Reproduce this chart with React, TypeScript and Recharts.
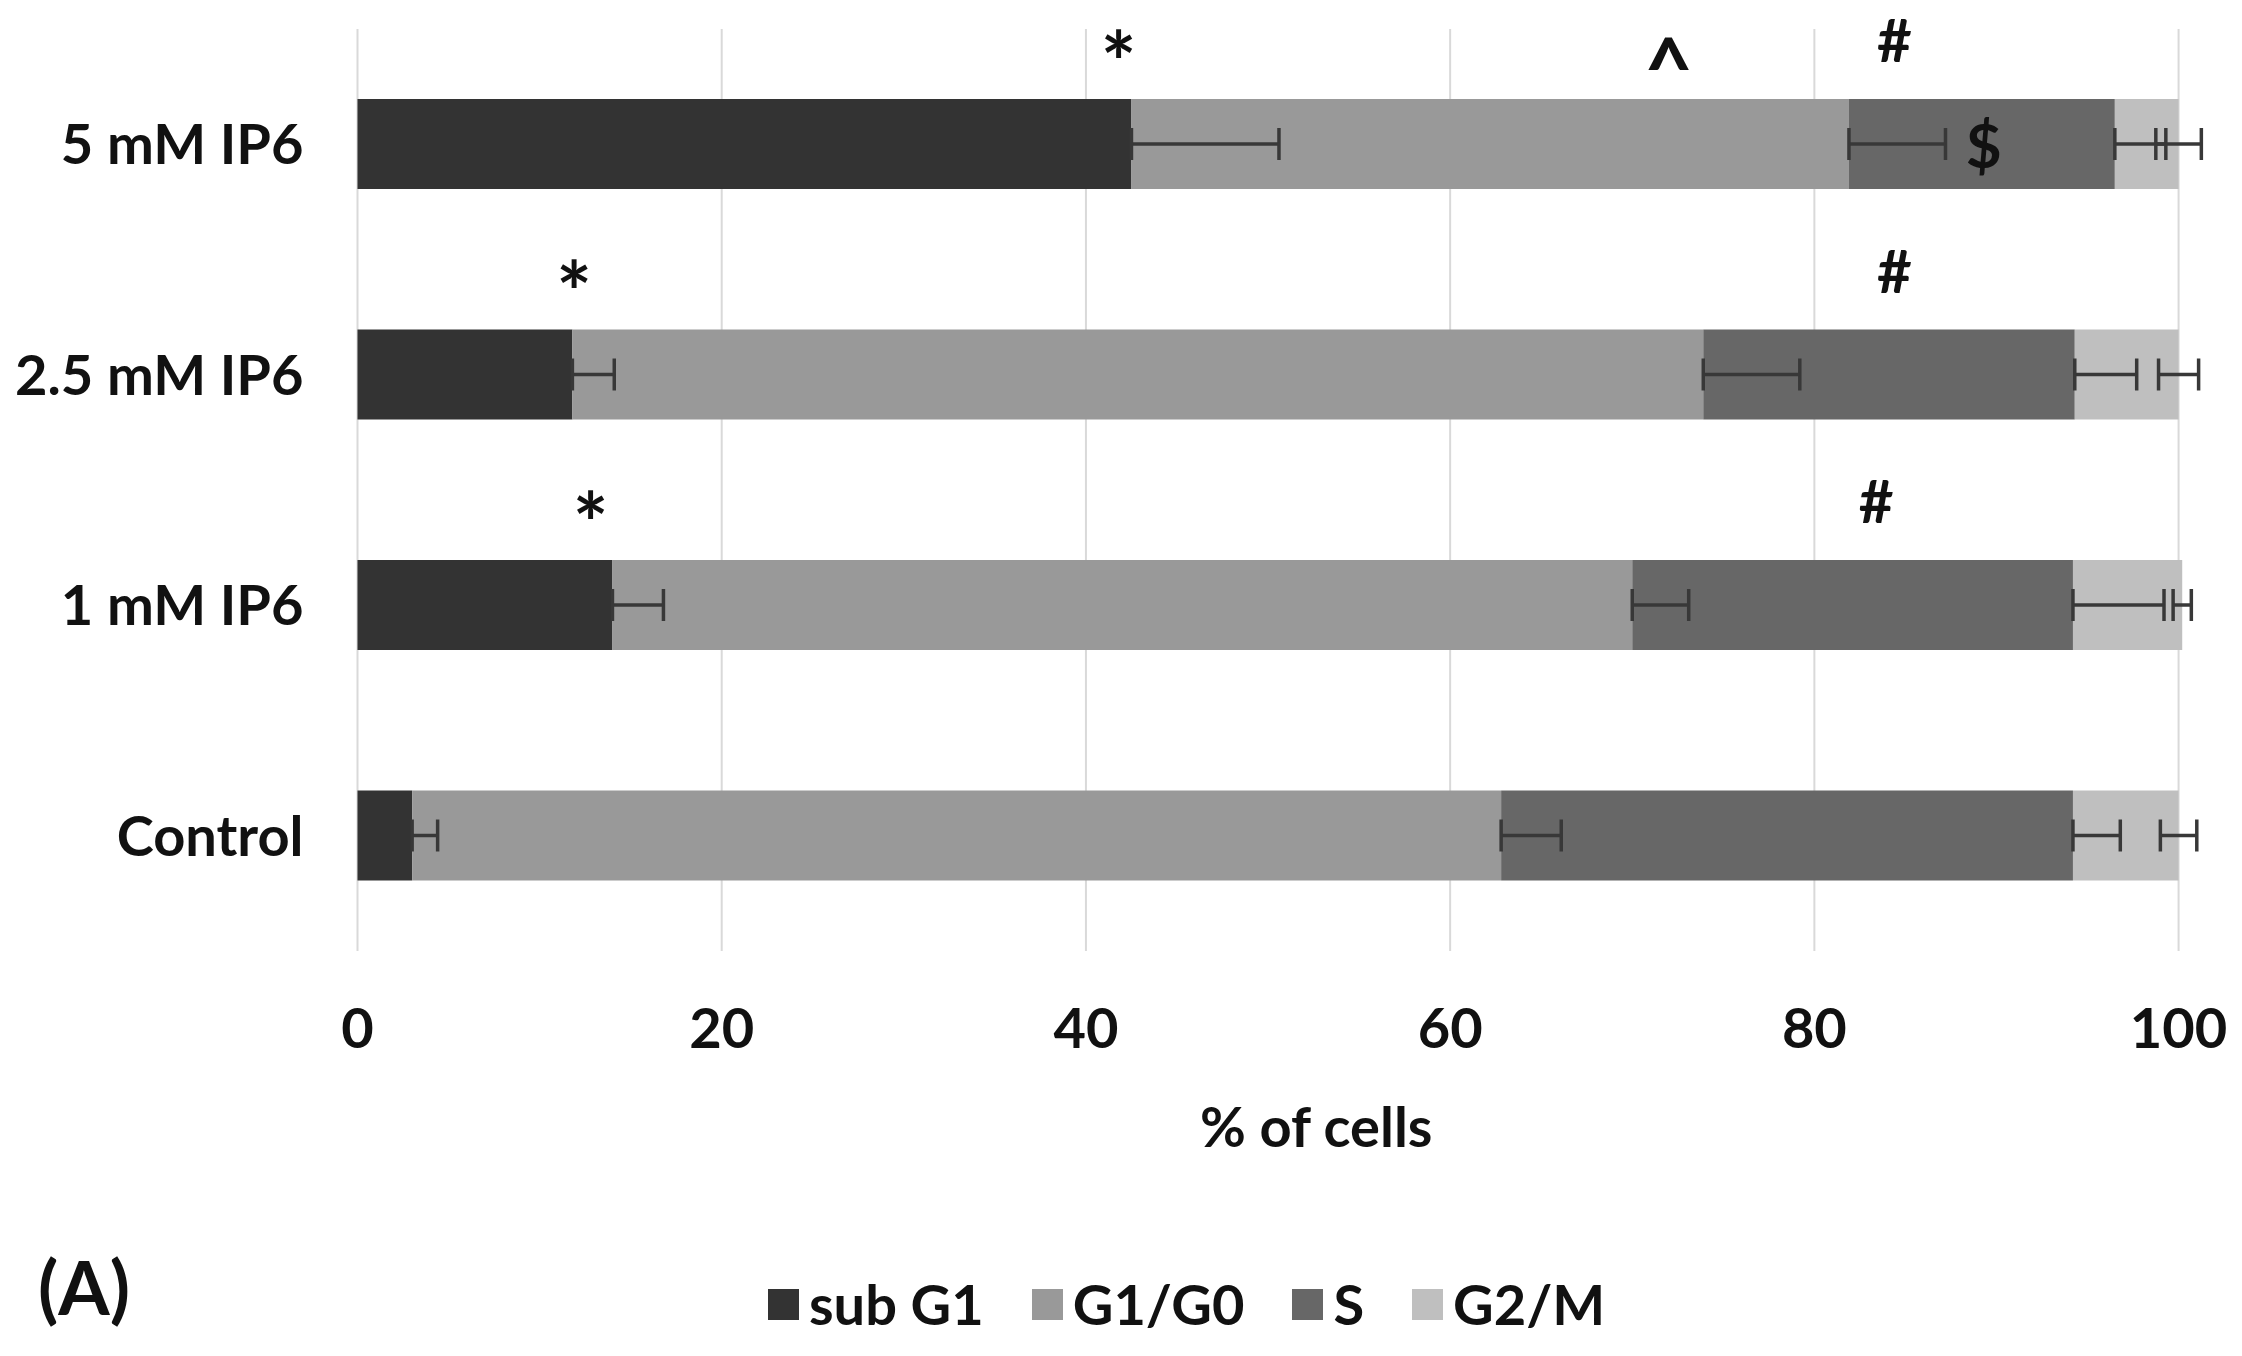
import React from "react";
import {
  BarChart,
  Bar,
  XAxis,
  YAxis,
  CartesianGrid,
  ErrorBar,
  ReferenceDot,
  Legend,
} from "recharts";

document.body.style.margin = "0";

// rows, top to bottom
const categories = ["5 mM IP6", "2.5 mM IP6", "1 mM IP6", "Control"];

// % of cells in each phase
const subG1 = [42.5, 11.8, 14.0, 3.0];
const g1g0 = [39.4, 62.1, 56.0, 59.8];
const sPhase = [14.6, 20.4, 24.2, 31.4];
const g2m = [3.5, 5.7, 6.0, 5.8];

// error bars (sub G1, G1/G0 and S are drawn one-sided, G2/M both ways)
const subG1Err = [8.1, 2.3, 2.8, 1.4];
const g1g0Err = [5.3, 5.3, 3.1, 3.3];
const sErr = [2.8, 3.4, 5.0, 2.6];
const g2mErr = [1.25, 1.1, 0.5, 1.0];

const xTicks = [0, 20, 40, 60, 80, 100];

// significance marks
const markSymbols = ["*", "^", "#", "$", "*", "#", "*", "#"];
const markRows = [
  "5 mM IP6",
  "5 mM IP6",
  "5 mM IP6",
  "5 mM IP6",
  "2.5 mM IP6",
  "2.5 mM IP6",
  "1 mM IP6",
  "1 mM IP6",
];
const markX = [41.8, 72.0, 84.4, 89.3, 11.9, 84.4, 12.8, 83.4];

const FONT = "Lato, 'Open Sans', sans-serif";
const TEXT = "#111111";

const series = [
  { key: "subG1", err: "subG1Err", name: "sub G1", color: "#333333" },
  { key: "g1g0", err: "g1g0Err", name: "G1/G0", color: "#999999" },
  { key: "s", err: "sErr", name: "S", color: "#676767" },
  { key: "g2m", err: "g2mErr", name: "G2/M", color: "#bfbfbf" },
];

const chartData = categories.map((name, i) => ({
  name,
  subG1: subG1[i],
  g1g0: g1g0[i],
  s: sPhase[i],
  g2m: g2m[i],
  subG1Err: [0, subG1Err[i]],
  g1g0Err: [0, g1g0Err[i]],
  sErr: [0, sErr[i]],
  g2mErr: [g2mErr[i], g2mErr[i]],
}));

// vertical nudge (px, from the row centre) and size for each mark glyph
const markStyle: Record<string, { dy: number; size: number }> = {
  "*": { dy: -84, size: 84 },
  "#": { dy: -105, size: 60 },
  "^": { dy: -78, size: 84 },
  $: { dy: 0, size: 62 },
};

function MarkLabel(props: any) {
  const { viewBox, symbol } = props;
  if (!viewBox) return null;
  const st = markStyle[symbol];
  const cx = viewBox.x + (viewBox.width || 0) / 2;
  const cy = viewBox.y + (viewBox.height || 0) / 2;
  return (
    <text
      x={cx}
      y={cy + st.dy}
      textAnchor="middle"
      dominantBaseline="central"
      fontFamily={FONT}
      fontWeight={700}
      fontSize={st.size}
      fill={TEXT}
    >
      {symbol}
    </text>
  );
}

function AxisTitle(props: any) {
  const { viewBox } = props;
  if (!viewBox) return null;
  return (
    <text
      x={viewBox.x + viewBox.width / 2 + 30}
      y={viewBox.y + viewBox.height - 4}
      textAnchor="middle"
      fontFamily={FONT}
      fontWeight={700}
      fontSize={56}
      fill={TEXT}
    >
      % of cells
    </text>
  );
}

// legend keeps the series order (sub G1, G1/G0, S, G2/M)
function LegendRow() {
  return (
    <div style={{ display: "flex", alignItems: "center", height: 56 }}>
      {series.map((it, i) => (
        <div
          key={it.key}
          style={{ display: "flex", alignItems: "center", marginLeft: i ? 48 : 0 }}
        >
          <span style={{ width: 31, height: 31, background: it.color, display: "inline-block" }} />
          <span
            style={{
              marginLeft: 10,
              fontFamily: FONT,
              fontWeight: 700,
              fontSize: 56,
              lineHeight: 1,
              color: TEXT,
            }}
          >
            {it.name}
          </span>
        </div>
      ))}
    </div>
  );
}

export default function App() {
  return (
    <div style={{ position: "relative", width: 2242, height: 1356, background: "#fff", fontFamily: FONT }}>
      <BarChart
        width={2242}
        height={1356}
        data={chartData}
        layout="vertical"
        margin={{ top: 29, right: 27, bottom: 205, left: 0 }}
      >
        <CartesianGrid
          horizontal={false}
          verticalValues={xTicks}
          stroke="#d9d9d9"
          strokeWidth={2}
        />
        <XAxis
          type="number"
          domain={[0, 102]}
          ticks={xTicks}
          tickLine={false}
          axisLine={false}
          tickSize={0}
          tickMargin={57}
          height={200}
          tick={{ fontSize: 56, fontWeight: 700, fill: TEXT, fontFamily: FONT }}
          label={<AxisTitle />}
        />
        <YAxis
          type="category"
          dataKey="name"
          width={357.5}
          tickLine={false}
          axisLine={false}
          tickSize={0}
          tickMargin={54}
          tick={{ fontSize: 56, fontWeight: 700, fill: TEXT, fontFamily: FONT }}
        />
        <Legend
          layout="horizontal"
          verticalAlign="middle"
          align="center"
          wrapperStyle={{ left: 768, top: 1276, width: "auto", height: 56 }}
          content={<LegendRow />}
        />
        {series.map((s) => (
          <Bar
            key={s.key}
            dataKey={s.key}
            name={s.name}
            stackId="phase"
            fill={s.color}
            barSize={90}
            isAnimationActive={false}
          >
            <ErrorBar
              dataKey={s.err}
              direction="x"
              width={16}
              stroke="#383838"
              strokeWidth={3.5}
              isAnimationActive={false}
            />
          </Bar>
        ))}
        {markSymbols.map((sym, i) => (
          <ReferenceDot
            key={i}
            x={markX[i]}
            y={markRows[i]}
            r={0}
            fill="none"
            stroke="none"
            ifOverflow="visible"
            label={<MarkLabel symbol={sym} />}
          />
        ))}
      </BarChart>
      <div
        style={{
          position: "absolute",
          left: 38,
          top: 1250,
          fontFamily: FONT,
          fontWeight: 700,
          fontSize: 74,
          lineHeight: 1,
          color: TEXT,
        }}
      >
        (A)
      </div>
    </div>
  );
}
